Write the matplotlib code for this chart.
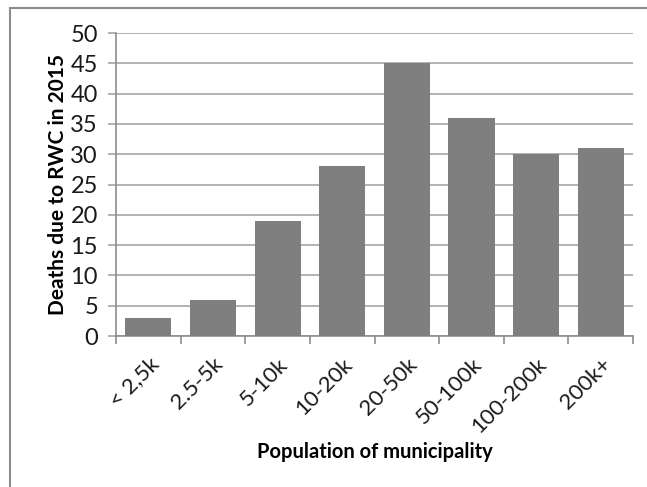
import numpy as np
import matplotlib.pyplot as plt
from matplotlib.patches import Rectangle

# Deaths per municipality size class
categories = ["< 2,5k", "2.5-5k", "5-10k", "10-20k", "20-50k", "50-100k", "100-200k", "200k+"]
deaths = [3, 6, 19, 28, 45, 36, 30, 31]
y_ticks = [0, 5, 10, 15, 20, 25, 30, 35, 40, 45, 50]

plt.rcParams['font.family'] = ['Lato', 'DejaVu Sans']

fig = plt.figure(figsize=(6.47, 4.87), dpi=100)
ax = fig.add_axes([0.1793, 0.310, 0.7991, 0.622])

# outer chart frame (runs off the bottom and right of the canvas)
fig.patches.append(Rectangle((10 / 647, -0.1), 1.2, 1.1 - 8 / 487,
                             transform=fig.transFigure, fill=False,
                             edgecolor="#8c8c8c", linewidth=1.5))

x = np.arange(len(categories))
ax.bar(x, deaths, width=0.714, color="#7f7f7f", zorder=3)

ax.set_xlim(-0.5, len(categories) - 0.5)
ax.set_ylim(0, 50)
ax.set_yticks(y_ticks)
ax.yaxis.grid(True, color="#a6a6a6", linewidth=1.2, zorder=0)

# category ticks sit on the boundaries between bars
ax.set_xticks(np.arange(len(categories) + 1) - 0.5, minor=False)
ax.set_xticklabels([])
ax.set_xticks(x, minor=True)
ax.set_xticklabels(categories, minor=True, rotation=45, ha="right", va="top",
                   rotation_mode="anchor", fontsize=16, color="#1a1a1a")
ax.tick_params(axis="x", which="minor", length=0, pad=13)
ax.tick_params(axis="x", which="major", length=6, width=1.2, color="#8c8c8c")
ax.tick_params(axis="y", length=6, width=1.2, color="#a6a6a6", labelsize=17,
               labelcolor="#1a1a1a", pad=7)

for side in ["top", "right"]:
    ax.spines[side].set_visible(False)
ax.spines["left"].set_color("#8c8c8c")
ax.spines["bottom"].set_color("#8c8c8c")
ax.spines["left"].set_linewidth(1.2)
ax.spines["bottom"].set_linewidth(1.2)

ax.set_ylabel("Deaths due to RWC in 2015", fontsize=15, fontweight="bold", labelpad=2)
ax.set_xlabel("Population of municipality", fontsize=14.5, fontweight="bold", labelpad=4)

fig.savefig("out.png", dpi=100)
